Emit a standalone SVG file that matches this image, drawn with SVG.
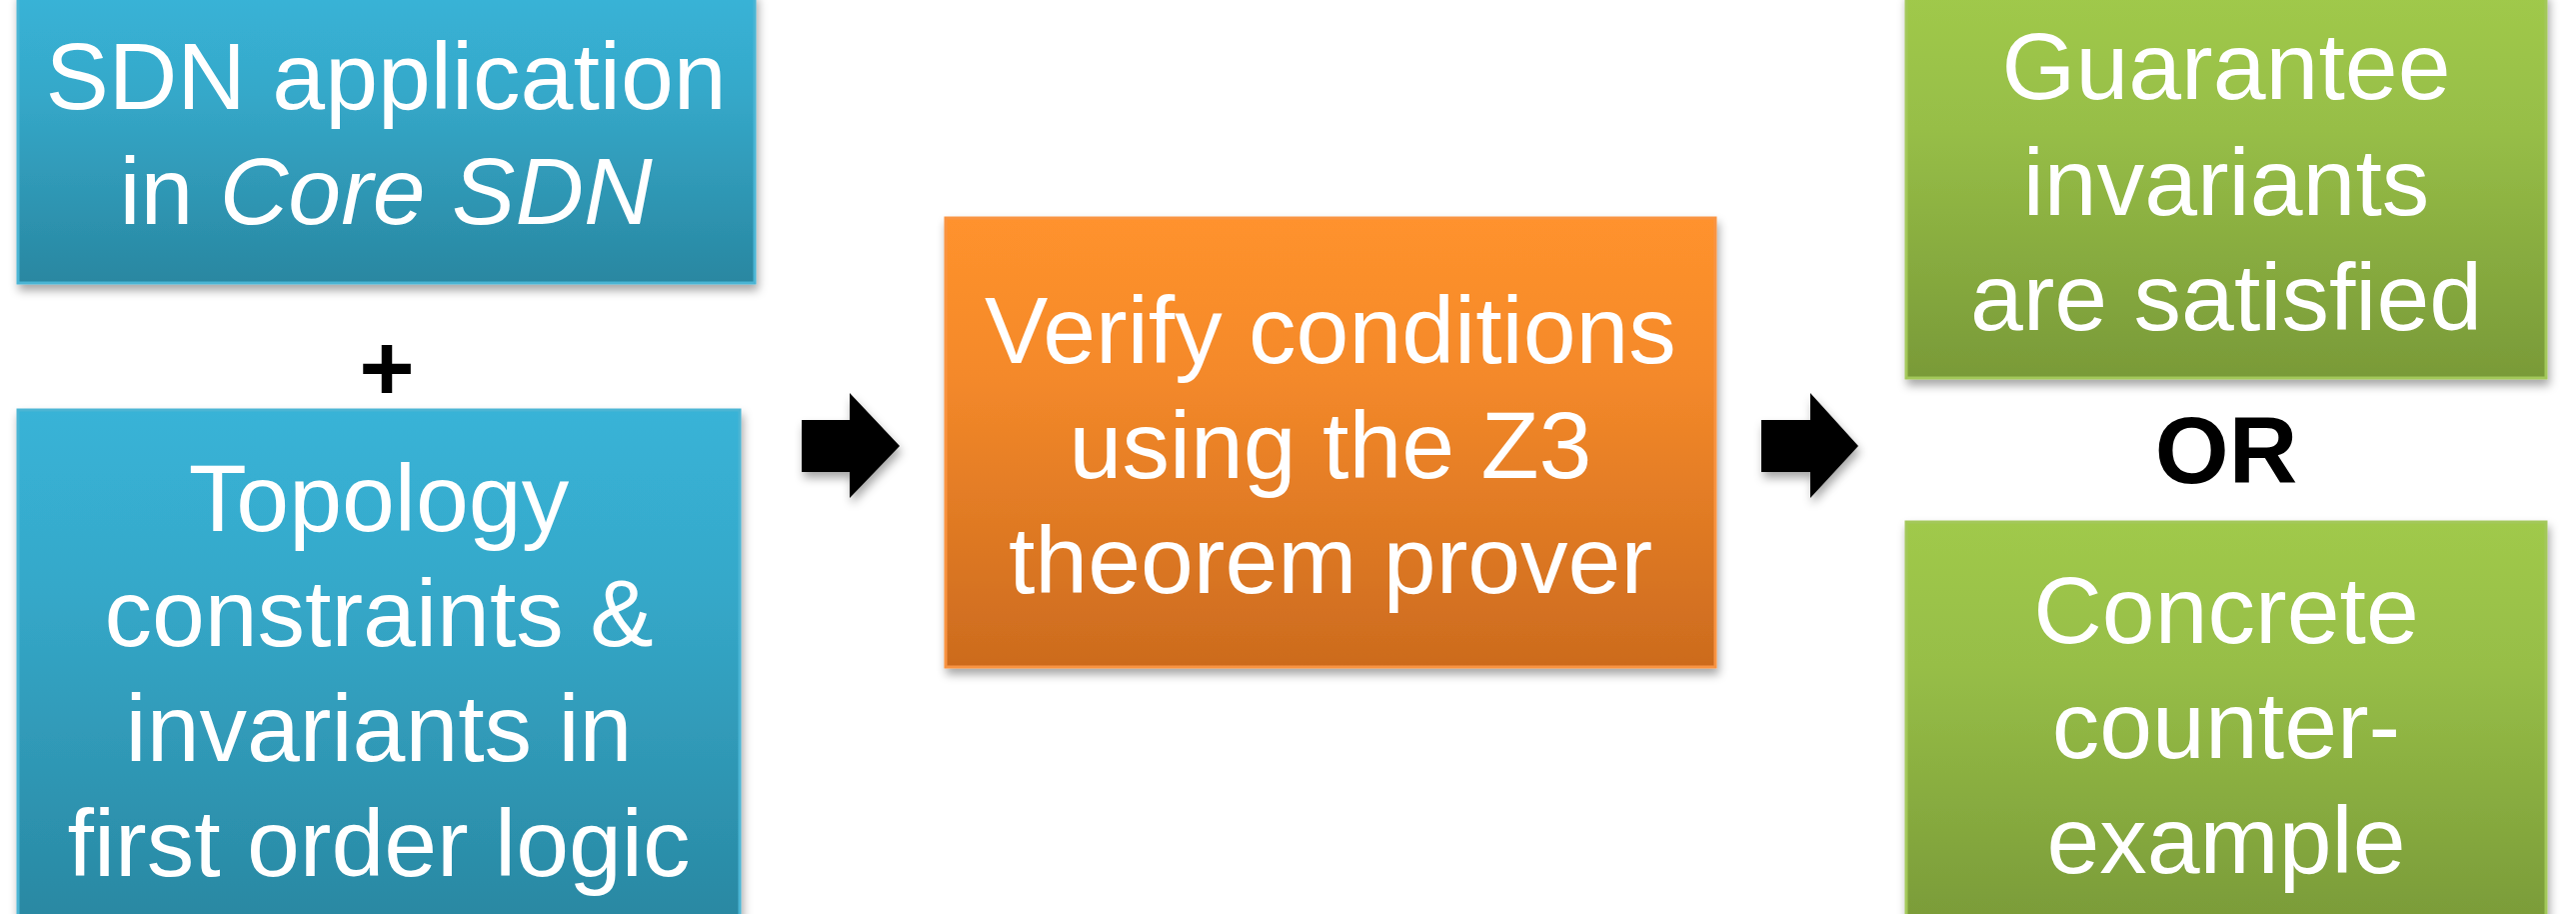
<svg xmlns="http://www.w3.org/2000/svg" width="2577" height="914" viewBox="0 0 2577 914">
  <defs>
    <linearGradient id="gBlue" x1="0" y1="0" x2="0" y2="1">
      <stop offset="0" stop-color="#38B3D7"/>
      <stop offset="0.35" stop-color="#35A8C9"/>
      <stop offset="1" stop-color="#2987A1"/>
    </linearGradient>
    <linearGradient id="gOrange" x1="0" y1="0" x2="0" y2="1">
      <stop offset="0" stop-color="#FF922D"/>
      <stop offset="0.35" stop-color="#F4892A"/>
      <stop offset="1" stop-color="#CC6B1E"/>
    </linearGradient>
    <linearGradient id="gGreen" x1="0" y1="0" x2="0" y2="1">
      <stop offset="0" stop-color="#A0C94B"/>
      <stop offset="0.35" stop-color="#97BE47"/>
      <stop offset="1" stop-color="#799A38"/>
    </linearGradient>
    <filter id="shadow" x="-10%" y="-10%" width="120%" height="130%">
      <feDropShadow dx="2" dy="6" stdDeviation="5" flood-color="#000" flood-opacity="0.35"/>
    </filter>
  </defs>
  <style>
    .t { font-family: "Liberation Sans", Arial, sans-serif; font-size: 95px; fill: #ffffff; text-anchor: middle; }
    .k { font-family: "Liberation Sans", Arial, sans-serif; font-size: 95px; font-weight: bold; fill: #000000; text-anchor: middle; }
    .blue { fill: url(#gBlue); stroke: #4BB5D4; stroke-width: 3; filter: url(#shadow); }
    .orange { fill: url(#gOrange); stroke: #F99443; stroke-width: 3; filter: url(#shadow); }
    .green { fill: url(#gGreen); stroke: #A3C85A; stroke-width: 3; filter: url(#shadow); }
    .arrow { fill: #000000; filter: url(#shadow); }
  </style>
  <rect width="2577" height="914" fill="#ffffff"/>

  <g id="node-sdn-app">
    <rect class="blue" x="18" y="-6" width="737" height="289"/>
    <text class="t" x="386" y="109">SDN application</text>
    <text class="t" x="386" y="224">in <tspan font-style="italic">Core SDN</tspan></text>
  </g>

  <g id="plus">
    <text class="k" x="387" y="400">+</text>
  </g>

  <g id="node-topology">
    <rect class="blue" x="18" y="410" width="722" height="520"/>
    <text class="t" x="379" y="531">Topology</text>
    <text class="t" x="379" y="646">constraints &amp;</text>
    <text class="t" x="379" y="761">invariants in</text>
    <text class="t" x="379" y="876">first order logic</text>
  </g>

  <g id="node-verify">
    <rect class="orange" x="946" y="218" width="770" height="449"/>
    <text class="t" x="1331" y="363">Verify conditions</text>
    <text class="t" x="1331" y="478">using the Z3</text>
    <text class="t" x="1331" y="593">theorem prover</text>
  </g>

  <g id="node-guarantee">
    <rect class="green" x="1907" y="-6" width="640" height="384"/>
    <text class="t" x="2227" y="99">Guarantee</text>
    <text class="t" x="2227" y="215">invariants</text>
    <text class="t" x="2227" y="330">are satisfied</text>
  </g>

  <g id="or">
    <text class="k" x="2227" y="483">OR</text>
  </g>

  <g id="node-counterexample">
    <rect class="green" x="1907" y="522" width="640" height="410"/>
    <text class="t" x="2227" y="643">Concrete</text>
    <text class="t" x="2227" y="758">counter-</text>
    <text class="t" x="2227" y="873">example</text>
  </g>

  <g id="connectors">
    <polygon class="arrow" points="802,420 850,420 850,393 900,446 850,498 850,472 802,472"/>
    <polygon class="arrow" points="1762,420 1811,420 1811,393 1859,446 1811,498 1811,472 1762,472"/>
  </g>
</svg>
